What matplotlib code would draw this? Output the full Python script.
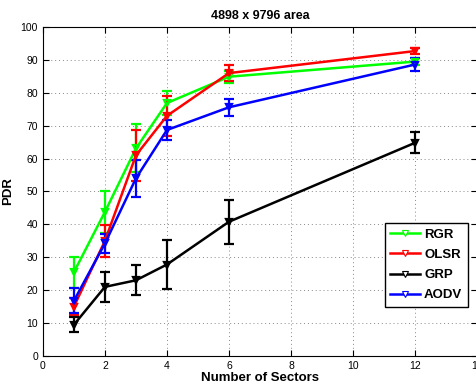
import matplotlib
matplotlib.use('Agg')
import matplotlib.pyplot as plt
from matplotlib.lines import Line2D
import numpy as np

plt.rcParams['font.family'] = ['Liberation Sans', 'DejaVu Sans']

sectors = [1, 2, 3, 4, 6, 12]

rgr = [25.5, 43.8, 63.1, 76.9, 84.9, 89.5]
rgr_err = [4.7, 6.3, 7.3, 3.6, 1.8, 1.0]

olsr = [15.0, 35.0, 61.0, 73.0, 86.0, 92.7]
olsr_err = [2.5, 4.8, 7.8, 6.0, 2.5, 0.8]

grp = [9.5, 21.0, 23.0, 27.8, 40.8, 64.8]
grp_err = [2.3, 4.5, 4.5, 7.5, 6.7, 3.2]

aodv = [16.8, 34.2, 54.0, 68.7, 75.6, 88.6]
aodv_err = [3.8, 3.0, 5.6, 3.0, 2.5, 2.0]

names = ['RGR', 'OLSR', 'GRP', 'AODV']
colors = ['#00ff00', '#ff0000', '#000000', '#0000ff']

fig = plt.figure(figsize=(4.77, 3.92), dpi=100)
ax = fig.add_axes([0.090, 0.092, 0.910, 0.839])

handles = []
for y, err, name, c in zip([rgr, olsr, grp, aodv], [rgr_err, olsr_err, grp_err, aodv_err], names, colors):
    ax.errorbar(sectors, y, yerr=err, color=c, lw=1.8, marker='v', ms=5,
                mfc='none', mec=c, mew=1.6, capsize=3.5, capthick=1.6,
                elinewidth=1.6)
    # legend entry: line with open marker, no error caps
    handles.append(Line2D([], [], color=c, lw=1.8, marker='v', ms=5,
                          mfc='white', mec=c, mew=0.8, label=name))

ax.set_xlim(0, 14)
ax.set_ylim(0, 100)
ax.set_xticks(np.arange(0, 15, 2))
ax.set_yticks(np.arange(0, 101, 10))
ax.tick_params(direction='in', top=True, right=True, labelsize=7.5, length=4, colors='black')
ax.grid(True, linestyle=(0, (1, 3)), color='#888888', lw=0.7)

ax.set_title('4898 x 9796 area', fontsize=9, fontweight='bold', pad=6)
ax.set_xlabel('Number of Sectors', fontsize=9.5, fontweight='bold', labelpad=1)
ax.set_ylabel('PDR', fontsize=9.5, fontweight='bold', labelpad=5)

leg = ax.legend(handles=handles, loc='lower right', bbox_to_anchor=(0.98, 0.148),
                borderaxespad=0, prop={'weight': 'bold', 'size': 9.5}, fancybox=False,
                framealpha=1, edgecolor='black', handlelength=2.2, borderpad=0.45,
                labelspacing=0.6, handletextpad=0.35)
leg.get_frame().set_linewidth(1.0)

fig.savefig('out.png', dpi=100)
